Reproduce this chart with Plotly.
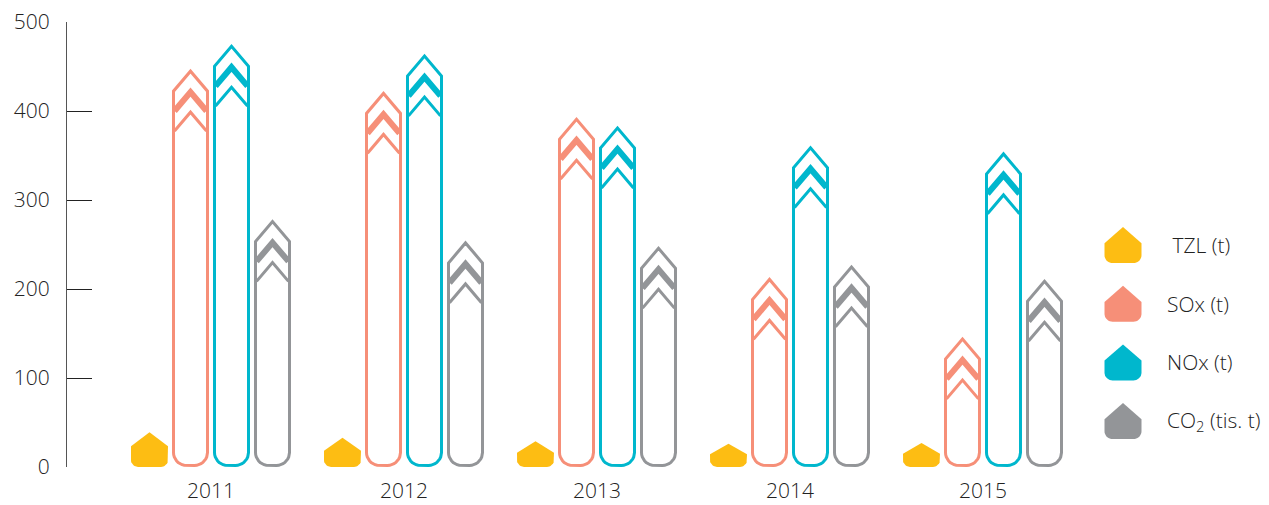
import numpy as np
import plotly.graph_objects as go

# ---------------- data ----------------
years = ["2011", "2012", "2013", "2014", "2015"]
tzl = [39, 33, 29, 26, 27]
sox = [447, 422, 393, 213, 146]
nox = [475, 464, 383, 361, 354]
co2 = [278, 254, 248, 227, 211]
series_names = ["\u00a0TZL (t)", "SOx (t)", "NOx (t)", "CO<sub>2</sub> (tis. t)"]
colors = ["#FDBD13", "#F68F78", "#00B7CD", "#939598"]
y_ticks = [0, 100, 200, 300, 400, 500]

# ---------------- layout geometry (page pixels) ----------------
W_FIG, H_FIG = 1269, 505
PLOT_L, PLOT_R, PLOT_T, PLOT_B = 67, 1085, 22, 467   # plot area in px
M_L, M_T = PLOT_L, PLOT_T
M_R, M_B = W_FIG - PLOT_R, H_FIG - PLOT_B
plot_w = PLOT_R - PLOT_L
plot_h = PLOT_B - PLOT_T
Y_MAX = 500
GROUP_PX = 193.0
FIRST_GROUP_PX = 211.0
X_RANGE = [-(FIRST_GROUP_PX - PLOT_L) / GROUP_PX,
           -(FIRST_GROUP_PX - PLOT_L) / GROUP_PX + plot_w / GROUP_PX]
kx = plot_w / (X_RANGE[1] - X_RANGE[0])  # px per x unit
ky = plot_h / Y_MAX                      # px per y unit
SLOT_PX = 41.0
slot_offsets = [-1.5, -0.5, 0.5, 1.5]

FONT = "Open Sans"
TXT = "#222222"
FS = 21


def arc(cx, cy, r, a0, a1, n=10):
    a = np.linspace(np.radians(a0), np.radians(a1), n)
    return list(zip(cx + r * np.cos(a), cy + r * np.sin(a)))


def to_data(pts, xc):
    xs = [xc + p[0] / kx for p in pts]
    ys = [p[1] / ky for p in pts]
    return xs, ys


def bar_outline(v, hw=17.0, bottom=1.5, roof=20.0, r=13.0):
    tip = v * ky - 2.0
    sh = tip - roof
    mid = (sh + bottom + r) / 2
    pts = [(-hw, mid), (-hw, sh), (0, tip), (hw, sh), (hw, bottom + r)]
    pts += arc(hw - r, bottom + r, r, 0, -90)
    pts += arc(-hw + r, bottom + r, r, -90, -180)
    pts += [(-hw, mid)]
    return pts, tip


def chevron(apex, hw, roof_hw=17.0, roof=20.0):
    drop = roof * hw / roof_hw
    return [(-hw, apex - drop), (0, apex), (hw, apex - drop)]


def house(h, hw=18.5, roof=14.0, r=7.0):
    roof = min(roof, h * 0.45)
    pts = [(-hw, h - roof), (0, h), (hw, h - roof), (hw, r)]
    pts += arc(hw - r, r, r, 0, -90)
    pts += arc(-hw + r, r, r, -90, -180)
    pts += [(-hw, h - roof)]
    return pts


fig = go.Figure()

series = [tzl, sox, nox, co2]
for si, vals in enumerate(series):
    col = colors[si]
    for gi, v in enumerate(vals):
        xc = gi + slot_offsets[si] * SLOT_PX / kx
        if si == 0:
            xs, ys = to_data(house(v * ky), xc)
            fig.add_trace(go.Scatter(x=xs, y=ys, mode="lines", fill="toself",
                                     fillcolor=col, line=dict(width=0, color=col),
                                     hoverinfo="skip", showlegend=False))
        else:
            pts, tip = bar_outline(v)
            xs, ys = to_data(pts, xc)
            fig.add_trace(go.Scatter(x=xs, y=ys, mode="lines",
                                     line=dict(width=3, color=col),
                                     hoverinfo="skip", showlegend=False))
            xs, ys = to_data(chevron(tip - 21, 16.0), xc)
            fig.add_trace(go.Scatter(x=xs, y=ys, mode="lines",
                                     line=dict(width=6, color=col),
                                     hoverinfo="skip", showlegend=False))
            xs, ys = to_data(chevron(tip - 41, 16.0), xc)
            fig.add_trace(go.Scatter(x=xs, y=ys, mode="lines",
                                     line=dict(width=3, color=col),
                                     hoverinfo="skip", showlegend=False))

# ---------------- custom legend ----------------
LEG_X = 1123
LEG_TEXT_X = 1165
LEG_TOP = 227
LEG_STEP = 58.7
shapes = []
annotations = []


def px_to_paper(px, py):
    return (px - PLOT_L) / plot_w, (PLOT_B - py) / plot_h


for si, name in enumerate(series_names):
    apex = LEG_TOP + si * LEG_STEP
    h = 36.0
    pts = house(h, hw=18.5, roof=18.0, r=8.0)
    path = ""
    for k, (dx, dy) in enumerate(pts):
        xp, yp = px_to_paper(LEG_X + dx, apex + h - dy)
        path += ("M" if k == 0 else "L") + f"{xp:.5f},{yp:.5f} "
    path += "Z"
    shapes.append(dict(type="path", path=path, xref="paper", yref="paper",
                       fillcolor=colors[si], line=dict(width=0), layer="above"))
    tx, ty = px_to_paper(LEG_TEXT_X, apex + 18)
    annotations.append(dict(x=tx, y=ty, xref="paper", yref="paper", text=name,
                            showarrow=False, xanchor="left", yanchor="middle",
                            font=dict(family=FONT, size=FS, color=TXT, weight=300)))

fig.update_layout(
    width=W_FIG, height=H_FIG,
    margin=dict(l=M_L, r=M_R, t=M_T, b=M_B, pad=0, autoexpand=False),
    paper_bgcolor="white", plot_bgcolor="white",
    shapes=shapes, annotations=annotations,
    showlegend=False,
    font=dict(family=FONT, size=FS, color=TXT, weight=300),
    xaxis=dict(range=X_RANGE, tickvals=list(range(len(years))), ticktext=years,
               showgrid=False, zeroline=False, showline=False, ticks="",
               ticklabelstandoff=9, fixedrange=True, automargin=False,
               ticklabeloverflow="allow",
               tickfont=dict(family=FONT, size=FS, color=TXT, weight=300)),
    yaxis=dict(range=[0, Y_MAX], tickvals=y_ticks, showgrid=False, zeroline=False,
               showline=True, linecolor="#555555", linewidth=1,
               ticks="inside", ticklen=25, tickcolor="#222222", tickwidth=1,
               ticklabelstandoff=12, fixedrange=True, automargin=False,
               ticklabeloverflow="allow",
               tickfont=dict(family=FONT, size=FS, color=TXT, weight=300)),
)

fig.write_html("out.html", config={"displayModeBar": False},
               post_script="document.body.style.margin='0';"
                           "document.documentElement.style.overflow='hidden';")
